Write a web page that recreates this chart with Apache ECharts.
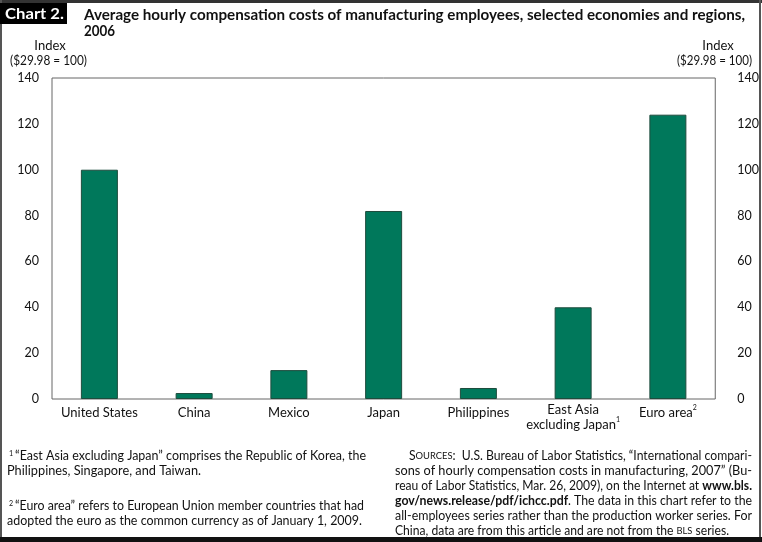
<!DOCTYPE html>
<html>
<head>
<meta charset="utf-8">
<script src="https://cdn.jsdelivr.net/npm/echarts@6/dist/echarts.min.js"></script>
<style>
html,body{margin:0;padding:0;background:#fff;}
#c{width:762px;height:542px;}
</style>
</head>
<body>
<div id="c"></div>
<script>
const categories = ['United States', 'China', 'Mexico', 'Japan', 'Philippines', 'East Asia\nexcluding Japan', 'Euro area'];
const categorySup = ['', '', '', '', '', '1', '2'];
const values = [100, 2.6, 12.6, 82, 4.8, 40, 124];
const yTicks = { min: 0, max: 140, interval: 20 };

const FONT = 'Lato, "Noto Sans", sans-serif';
const chart = echarts.init(document.getElementById('c'), null, { renderer: 'canvas' });

const noteRich = {
  s: { fontSize: 7.5, fontFamily: FONT, verticalAlign: 'top', fill: '#111', padding: [0, 2, 0, 0] },
  n: { fontSize: 13, fontFamily: FONT, fill: '#111' },
  b: { fontSize: 13, fontFamily: FONT, fontWeight: 'bold', fill: '#111' },
  sc: { fontSize: 10, fontFamily: FONT, fill: '#111' }
};

function measure(style) {
  const el = new echarts.graphic.Text({ style: style });
  return el.getBoundingRect().width;
}
// text element whose width is fitted to the span [x, x2]
function fit(x, x2, y, style) {
  const st = Object.assign({ fontFamily: FONT, fontSize: 13, fill: '#111', verticalAlign: 'middle' }, style);
  const w = measure(st);
  const sx = x2 ? (x2 - x) / w : 1;
  return { type: 'text', x: x, y: y, scaleX: sx, originX: 0, style: st };
}
function t(x, y, text, style) {
  return { type: 'text', x: x, y: y, style: Object.assign({ text: text, fontFamily: FONT, fontSize: 13, fill: '#111', verticalAlign: 'middle' }, style || {}) };
}
function note(x, x2, y, text) {
  return fit(x, x2, y, { text: text, rich: noteRich });
}

const option = {
  animation: false,
  grid: { left: 52, right: 46, top: 78, bottom: 143, show: true, borderColor: '#666', borderWidth: 1, containLabel: false },
  xAxis: {
    type: 'category',
    data: categories,
    axisLine: { show: false },
    axisTick: { show: false },
    axisLabel: {
      interval: 0, margin: 14, verticalAlign: 'middle',
      fontFamily: FONT, fontSize: 13, color: '#111', lineHeight: 18,
      formatter: function (v, i) {
        const sup = categorySup[i];
        const lines = v.split('\n');
        return lines.map(function (l, k) {
          const tag = (lines.length > 1 && k === 0) ? 'f' : 'n';
          if (k === lines.length - 1 && sup) return '{' + tag + '|' + l + '}{s|' + sup + '}';
          return '{' + tag + '|' + l + '}';
        }).join('\n');
      },
      rich: {
        n: { fontFamily: FONT, fontSize: 13, color: '#111', lineHeight: 18 },
        f: { fontFamily: FONT, fontSize: 13, color: '#111', lineHeight: 24, verticalAlign: 'bottom' },
        s: { fontFamily: FONT, fontSize: 7, color: '#111', verticalAlign: 'top', lineHeight: 18 }
      }
    }
  },
  yAxis: [
    {
      type: 'value', position: 'left', min: yTicks.min, max: yTicks.max, interval: yTicks.interval,
      splitLine: { show: false }, axisLine: { show: false }, axisTick: { show: false },
      axisLabel: { margin: 13, fontFamily: FONT, fontSize: 12.5, color: '#111' }
    },
    {
      type: 'value', position: 'right', min: yTicks.min, max: yTicks.max, interval: yTicks.interval,
      splitLine: { show: false }, axisLine: { show: false }, axisTick: { show: false },
      axisLabel: { margin: 22, fontFamily: FONT, fontSize: 12.5, color: '#111' }
    }
  ],
  series: [{
    type: 'bar',
    data: values,
    barWidth: 37,
    itemStyle: { color: '#00785b', borderColor: '#1e4c3d', borderWidth: 1 }
  }],
  graphic: [
    // frame
    { type: 'rect', shape: { x: 0, y: 0, width: 762, height: 3 }, style: { fill: '#333' } },
    { type: 'rect', shape: { x: 0, y: 0, width: 2, height: 542 }, style: { fill: '#555' } },
    { type: 'rect', shape: { x: 759, y: 0, width: 2, height: 542 }, style: { fill: '#555' } },
    { type: 'rect', shape: { x: 0, y: 537, width: 762, height: 5 }, style: { fill: '#111' } },
    { type: 'rect', shape: { x: 0, y: 3, width: 67, height: 21 }, style: { fill: '#000' } },
    fit(5, 64, 14, { text: 'Chart 2.', fill: '#fff', fontWeight: 'bold', fontSize: 15 }),
    fit(84, 745, 15, { text: 'Average hourly compensation costs of manufacturing employees, selected economies and regions,', fontWeight: 'bold', fontSize: 15 }),
    fit(84, 115, 31, { text: '2006', fontWeight: 'bold', fontSize: 15 }),
    // axis titles
    t(50, 46, 'Index', { align: 'center' }),
    fit(10, 87, 61, { text: '($29.98 = 100)' }),
    t(718, 46, 'Index', { align: 'center' }),
    fit(677, 752, 61, { text: '($29.98 = 100)' }),
    // footnotes left
    note(9, 366, 456, '{s|1}{n|\u201cEast Asia excluding Japan\u201d comprises the Republic of Korea, the}'),
    note(7, 201, 471, '{n|Philippines, Singapore, and Taiwan.}'),
    note(9, 364, 506, '{s|2}{n|\u201cEuro area\u201d refers to European Union member countries that had}'),
    note(7, 362, 521, '{n|adopted the euro as the common currency as of January 1, 2009.}'),
    // footnotes right
    note(409, 752, 456, '{n|S}{sc|OURCES}{n|:  U.S. Bureau of Labor Statistics, \u201cInternational compari-}'),
    note(395, 752, 471, '{n|sons of hourly compensation costs in manufacturing, 2007\u201d (Bu-}'),
    note(395, 752, 486, '{n|reau of Labor Statistics, Mar. 26, 2009), on the Internet at }{b|www.bls.}'),
    note(395, 752, 501, '{b|gov/news.release/pdf/ichcc.pdf}{n|. The data in this chart refer to the}'),
    note(395, 752, 516, '{n|all-employees series rather than the production worker series. For}'),
    note(395, 729, 531, '{n|China, data are from this article and are not from the }{sc|BLS}{n| series.}')
  ]
};
chart.setOption(option);
</script>
</body>
</html>
